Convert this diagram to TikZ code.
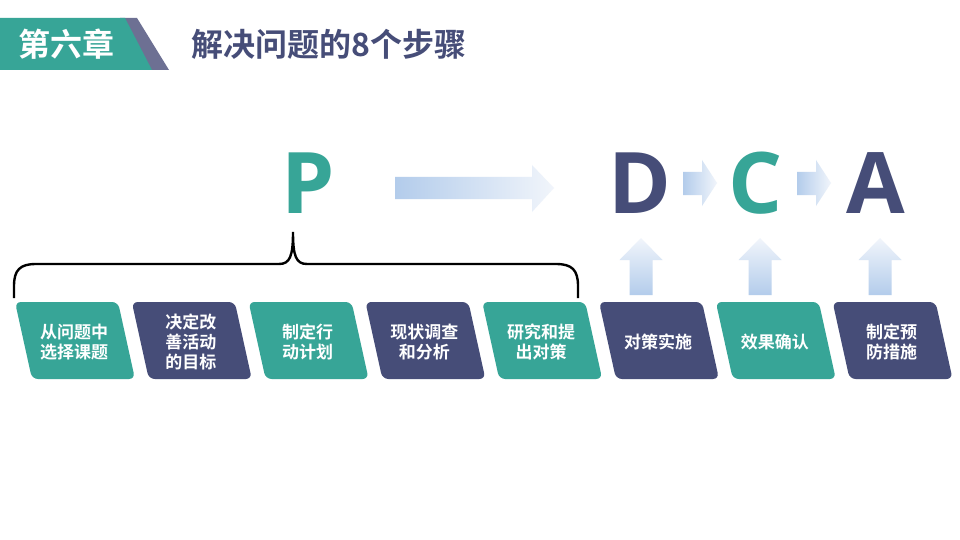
\documentclass[tikz,border=0pt]{standalone}
\usepackage{fontspec}
\setmainfont{Open Sans}
\newfontfamily\cjk{Noto Sans CJK SC}[BoldFont={Noto Sans CJK SC Bold}]
\usetikzlibrary{calc}

\definecolor{verdeacqua}{HTML}{37A597}
\definecolor{blunotte}{HTML}{464D78}
\definecolor{grigioblu}{HTML}{6D7093}
\definecolor{azzurro}{HTML}{B3CCEB}
\definecolor{azzurrino}{HTML}{F1F5FB}

\begin{document}
\begin{tikzpicture}[
    x=1pt, y=-1pt,   % coordinate in pixel, y verso il basso
    lettera/.style={font=\fontsize{85}{85}\selectfont\bfseries, inner sep=0pt},
    passo/.style={font=\cjk\bfseries\fontsize{17}{20}\selectfont, text=white, align=center, inner sep=0pt},
    titolo/.style={font=\cjk\bfseries\fontsize{32}{32}\selectfont, inner sep=0pt},
    graffa/.style={draw=black, line width=2.4pt},
    freccia/.style={left color=azzurro, right color=azzurrino},
    frecciasu/.style={top color=azzurrino, bottom color=azzurro}
]
    \useasboundingbox[fill=white] (0,0) rectangle (960,540);

    % =========================================================================
    % 1. INTESTAZIONE
    % =========================================================================
    \fill[grigioblu] (120,18) -- (137,18) -- (169,70) -- (148,70) -- cycle;
    \fill[verdeacqua] (0,18) -- (125,18) -- (152,70) -- (0,70) -- cycle;
    \node[titolo, text=white] (capitolo) at (66,44) {第六章};
    \node[titolo, text=blunotte, anchor=west] (argomento) at (191,44) {解决问题的8个步骤};

    % =========================================================================
    % 2. LETTERE P D C A
    % =========================================================================
    \node[lettera, text=verdeacqua] (P) at (308,183) {P};
    \node[lettera, text=blunotte]   (D) at (640,183) {D};
    \node[lettera, text=verdeacqua] (C) at (756,183) {C};
    \node[lettera, text=blunotte]   (A) at (876,183) {A};

    % Freccia lunga P -> D
    \shade[freccia] (395,177) -- (532,177) -- (532,165) -- (554,188) -- (532,212)
        -- (532,199) -- (395,199) -- cycle;

    % Frecce corte D -> C e C -> A
    \foreach \xf in {683,797} {
        \shade[freccia] (\xf,172) -- (\xf+19,172) -- (\xf+19,160) -- (\xf+34,183)
            -- (\xf+19,206) -- (\xf+19,195) -- (\xf,195) -- cycle;
    }

    % Frecce verso l'alto sotto D, C, A
    \foreach \xf in {641,760,880} {
        \shade[frecciasu] (\xf-11.5,295) -- (\xf-11.5,260) -- (\xf-21.5,260) -- (\xf,238)
            -- (\xf+21.5,260) -- (\xf+11.5,260) -- (\xf+11.5,295) -- cycle;
    }

    % =========================================================================
    % 3. GRAFFA SOPRA I PRIMI CINQUE PASSI
    % =========================================================================
    \draw[graffa] (14,298) -- (14,286) .. controls (14,270) and (20,264) .. (36,264)
        -- (279,264) .. controls (290,264) and (293,256) .. (293,232)
        .. controls (293,256) and (296,264) .. (307,264)
        -- (556,264) .. controls (572,264) and (578,270) .. (578,286) -- (578,298);

    % =========================================================================
    % 4. GLI OTTO PASSI
    % =========================================================================
    \foreach \i/\colore/\testo in {
        1/verdeacqua/{从问题中\\选择课题},
        2/blunotte/{决定改\\善活动\\的目标},
        3/verdeacqua/{制定行\\动计划},
        4/blunotte/{现状调查\\和分析},
        5/verdeacqua/{研究和提\\出对策},
        6/blunotte/{对策实施},
        7/verdeacqua/{效果确认},
        8/blunotte/{制定预\\防措施}} {
        \pgfmathsetmacro{\xs}{15+116.8*(\i-1)}
        \fill[\colore, rounded corners=6pt] (\xs,302) -- (\xs+103,302) -- (\xs+120,379)
            -- (\xs+17,379) -- cycle;
        \node[passo] (s\i) at (\xs+59,342) {\testo};
    }

\end{tikzpicture}
\end{document}
